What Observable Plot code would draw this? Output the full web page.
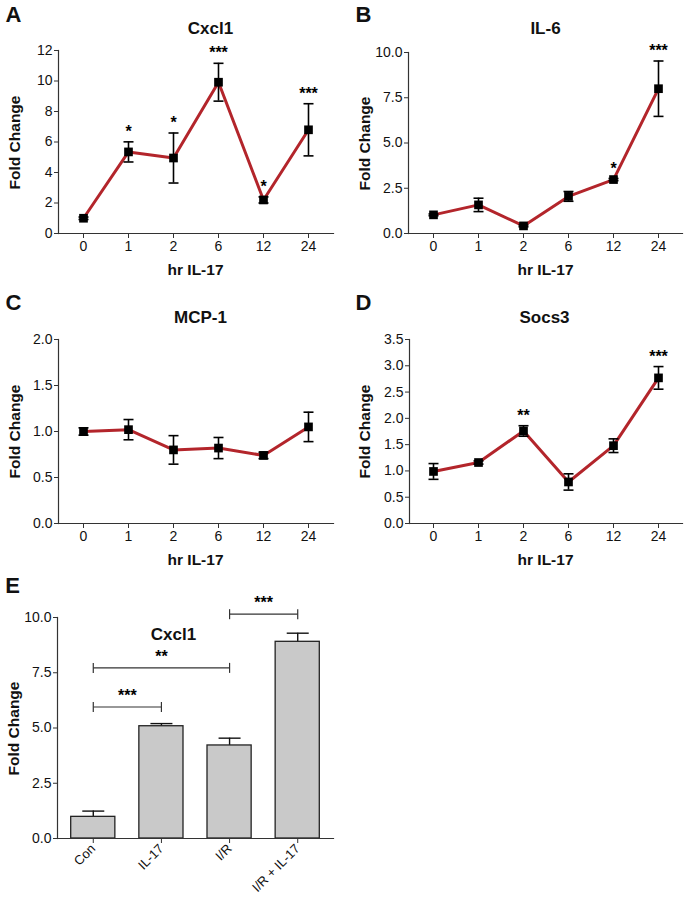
<!DOCTYPE html>
<html><head><meta charset="utf-8">
<script src="https://cdn.jsdelivr.net/npm/d3@7"></script>
<script src="https://cdn.jsdelivr.net/npm/@observablehq/plot@0.6"></script>
<style>
body{margin:0;background:#fff;}
#wrap{position:relative;width:686px;height:908px;}
#wrap svg{position:absolute;overflow:visible;background:transparent;}
</style></head><body><div id="wrap"></div>
<script>
// ---------- data ----------
const hours = ["0","1","2","6","12","24"];

const cxcl1Mean = [1.0, 5.35, 4.95, 9.92, 2.2, 6.8];
const cxcl1Err  = [0.08, 0.66, 1.64, 1.24, 0.2, 1.71];
const cxcl1Stars = ["", "*", "*", "***", "*", "***"];

const il6Mean = [1.03, 1.58, 0.42, 2.05, 2.98, 8.0];
const il6Err  = [0.05, 0.37, 0.05, 0.27, 0.06, 1.53];
const il6Stars = ["", "", "", "", "*", "***"];

const mcp1Mean = [1.0, 1.02, 0.80, 0.82, 0.74, 1.05];
const mcp1Err  = [0.04, 0.11, 0.155, 0.115, 0.035, 0.16];
const mcp1Stars = ["", "", "", "", "", ""];

const socs3Mean = [0.99, 1.16, 1.76, 0.79, 1.48, 2.77];
const socs3Err  = [0.15, 0.03, 0.10, 0.155, 0.13, 0.215];
const socs3Stars = ["", "", "**", "", "", "***"];

const groups = ["Con", "IL-17", "I/R", "I/R + IL-17"];
const barMean = [0.98, 5.08, 4.21, 8.90];
const barErr  = [0.26, 0.12, 0.33, 0.39];
const bracketFrom = ["Con", "Con", "I/R"];
const bracketTo   = ["IL-17", "I/R", "I/R + IL-17"];
const bracketY    = [5.95, 7.72, 10.15];
const bracketStars = ["***", "**", "***"];

// ---------- styling ----------
const FONT = "'Liberation Sans', Arial, Helvetica, sans-serif";
const RED = "#b3252b";
const AX = "#333";
const wrap = document.getElementById("wrap");

const hCap = (hw) => ({draw(ctx) { ctx.moveTo(-hw, 0); ctx.lineTo(hw, 0); }});
const vCap = (hh) => ({draw(ctx) { ctx.moveTo(0, -hh); ctx.lineTo(0, hh); }});

function place(svg, left, top) {
  svg.style.left = left + "px";
  svg.style.top = top + "px";
  wrap.appendChild(svg);
}

function label(text, X, Y, ml, mt, opts = {}) {
  return Plot.text([text], {
    frameAnchor: "top-left", dx: X - ml, dy: Y - mt,
    text: d => d, textAnchor: "middle", lineAnchor: "middle",
    fontWeight: "bold", fill: "#111", ...opts
  });
}

function linePanel(cfg) {
  const data = hours.map((h, i) => ({t: h, v: cfg.mean[i], lo: cfg.mean[i] - cfg.err[i], hi: cfg.mean[i] + cfg.err[i], s: cfg.stars[i]}));
  const {ml, mr, mt, mb, width, height} = cfg;
  return Plot.plot({
    width, height, marginLeft: ml, marginRight: mr, marginTop: mt, marginBottom: mb,
    style: {fontFamily: FONT, fontSize: "14px", color: "#111", background: "transparent", overflow: "visible"},
    x: {type: "point", domain: hours, padding: 0.5},
    y: {domain: [0, cfg.yMax]},
    marks: [
      Plot.axisY({ticks: cfg.yTicks, tickFormat: cfg.yFmt, tickSize: 4, tickPadding: 2, label: null, stroke: AX, fontSize: 14}),
      Plot.axisX({tickSize: 5, tickPadding: 3, label: null, stroke: AX, fontSize: 14}),
      Plot.frame({anchor: "left", stroke: AX, strokeWidth: 1.2}),
      Plot.frame({anchor: "bottom", stroke: AX, strokeWidth: 1.2}),
      Plot.line(data, {x: "t", y: "v", stroke: RED, strokeWidth: 3}),
      Plot.ruleX(data, {x: "t", y1: "lo", y2: "hi", stroke: "#000", strokeWidth: 1.6}),
      Plot.dot(data, {x: "t", y: "hi", symbol: hCap(5), stroke: "#000", strokeWidth: 1.6, fill: "none"}),
      Plot.dot(data, {x: "t", y: "lo", symbol: hCap(5), stroke: "#000", strokeWidth: 1.6, fill: "none"}),
      Plot.dot(data, {x: "t", y: "v", symbol: "square", r: 4.9, fill: "#000", stroke: "none"}),
      Plot.text(data, {x: "t", y: "hi", text: "s", dy: -10, lineAnchor: "middle", fontSize: 16, fontWeight: "bold", fill: "#000"}),
      label(cfg.letter, cfg.letterXY[0], cfg.letterXY[1], ml, mt, {fontSize: 22}),
      label(cfg.title, cfg.titleXY[0], cfg.titleXY[1], ml, mt, {fontSize: 17}),
      label("Fold Change", cfg.ylabXY[0], cfg.ylabXY[1], ml, mt, {fontSize: 15.5, rotate: -90}),
      label("hr IL-17", cfg.xlabXY[0], cfg.xlabXY[1], ml, mt, {fontSize: 15.5})
    ]
  });
}

// Panel A
place(linePanel({
  mean: cxcl1Mean, err: cxcl1Err, stars: cxcl1Stars, title: "Cxcl1", letter: "A",
  yMax: 12, yTicks: [0, 2, 4, 6, 8, 10, 12], yFmt: d3.format("d"),
  width: 340, height: 275, ml: 58, mr: 7, mt: 50, mb: 42,
  letterXY: [13, 14], titleXY: [210, 28], ylabXY: [15, 142], xlabXY: [195, 270]
}), 0, 0);

// Panel B
place(linePanel({
  mean: il6Mean, err: il6Err, stars: il6Stars, title: "IL-6", letter: "B",
  yMax: 10, yTicks: [0, 2.5, 5, 7.5, 10], yFmt: d3.format(".1f"),
  width: 346, height: 275, ml: 68, mr: 4, mt: 52, mb: 42,
  letterXY: [23, 14], titleXY: [205, 28], ylabXY: [25, 143], xlabXY: [205, 270]
}), 340, 0);

// Panel C
place(linePanel({
  mean: mcp1Mean, err: mcp1Err, stars: mcp1Stars, title: "MCP-1", letter: "C",
  yMax: 2, yTicks: [0, 0.5, 1, 1.5, 2], yFmt: d3.format(".1f"),
  width: 340, height: 285, ml: 58, mr: 7, mt: 64, mb: 37,
  letterXY: [13, 27], titleXY: [200, 42], ylabXY: [15, 156], xlabXY: [195, 285]
}), 0, 275);

// Panel D
place(linePanel({
  mean: socs3Mean, err: socs3Err, stars: socs3Stars, title: "Socs3", letter: "D",
  yMax: 3.5, yTicks: [0, 0.5, 1, 1.5, 2, 2.5, 3, 3.5], yFmt: d3.format(".1f"),
  width: 346, height: 285, ml: 69, mr: 4, mt: 64, mb: 37,
  letterXY: [23, 27], titleXY: [204, 42], ylabXY: [25, 156], xlabXY: [205, 285]
}), 340, 275);

// Panel E (x positions through a linear index scale so bracket midpoints can be placed)
(function () {
  const ml = 57, mr = 7, mt = 57, mb = 70, width = 340, height = 348;
  const gi = g => groups.indexOf(g);
  const bars = groups.map((g, i) => ({i, v: barMean[i], hi: barMean[i] + barErr[i]}));
  const brackets = bracketFrom.map((f, k) => ({a: gi(f), b: gi(bracketTo[k]), y: bracketY[k], s: bracketStars[k]}));
  const svg = Plot.plot({
    width, height, marginLeft: ml, marginRight: mr, marginTop: mt, marginBottom: mb,
    style: {fontFamily: FONT, fontSize: "13px", color: "#111", background: "transparent", overflow: "visible"},
    x: {domain: [-0.525, groups.length - 1 + 0.525]},
    y: {domain: [0, 10]},
    marks: [
      Plot.axisY({ticks: [0, 2.5, 5, 7.5, 10], tickFormat: d3.format(".1f"), tickSize: 4, tickPadding: 2, label: null, stroke: AX, fontSize: 14}),
      Plot.axisX({ticks: groups.map((g, i) => i), tickFormat: i => groups[i], tickSize: 5, tickPadding: 3, tickRotate: -45, label: null, stroke: AX, fontSize: 13}),
      Plot.ruleX(bars, {x: "i", y1: "v", y2: "hi", stroke: "#111", strokeWidth: 1.4}),
      Plot.dot(bars, {x: "i", y: "hi", symbol: hCap(11), stroke: "#111", strokeWidth: 1.4, fill: "none"}),
      Plot.rectY(bars, {x1: d => d.i - 0.5, x2: d => d.i + 0.5, y: "v", insetLeft: 12, insetRight: 12, fill: "#c9c9c9", stroke: "#222", strokeWidth: 1.3}),
      Plot.frame({anchor: "left", stroke: AX, strokeWidth: 1.2}),
      Plot.frame({anchor: "bottom", stroke: AX, strokeWidth: 1.2}),
      Plot.link(brackets, {x1: "a", x2: "b", y1: "y", y2: "y", stroke: "#333", strokeWidth: 1.2}),
      Plot.dot(brackets, {x: "a", y: "y", symbol: vCap(5), stroke: "#333", strokeWidth: 1.2}),
      Plot.dot(brackets, {x: "b", y: "y", symbol: vCap(5), stroke: "#333", strokeWidth: 1.2}),
      Plot.text(brackets, {x: d => (d.a + d.b) / 2, y: "y", text: "s", dy: -11, fontSize: 16, fontWeight: "bold", fill: "#000", lineAnchor: "middle"}),
      label("E", 12, 25, ml, mt, {fontSize: 22}),
      label("Cxcl1", 173, 74, ml, mt, {fontSize: 17}),
      label("Fold Change", 14, 168, ml, mt, {fontSize: 15.5, rotate: -90})
    ]
  });
  place(svg, 0, 560);
})();
</script></body></html>
